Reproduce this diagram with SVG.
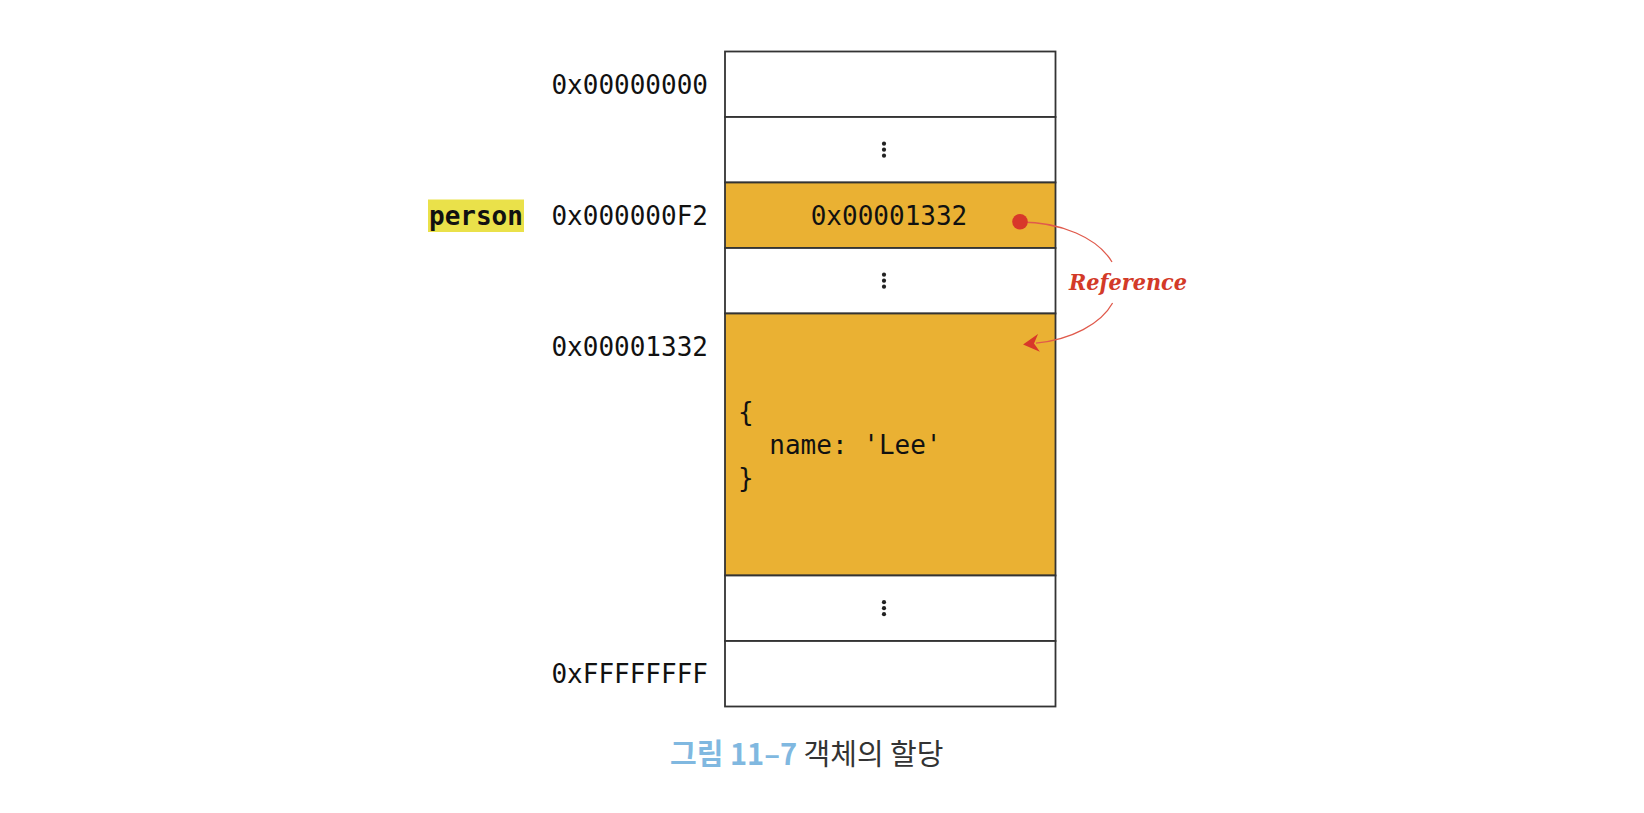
<svg xmlns="http://www.w3.org/2000/svg" width="1644" height="813" viewBox="0 0 1644 813">
<style>
.cell{stroke:#333;stroke-width:1.8}
.w{fill:#fff}
.o{fill:#EAB133}
.mono{font-family:"DejaVu Sans Mono","Liberation Mono",monospace;font-size:26px;fill:#111}
.dot{fill:#222}
.ref{font-family:"DejaVu Serif","Liberation Serif",serif;font-weight:bold;font-style:italic;font-size:23px;fill:#D33A28}
.conn{fill:none;stroke:#E05A4C;stroke-width:1.3}
.cap{font-family:"Noto Sans CJK KR","Noto Sans",sans-serif;font-size:29px}
</style>
<defs>
<marker id="ah" viewBox="0 0 16 18" refX="3" refY="9" markerWidth="16" markerHeight="18" markerUnits="userSpaceOnUse" orient="auto">
<path d="M16,9 L0,0 L5,9 L0,18 Z" fill="#D8382A"/>
</marker>
</defs>
<rect width="1644" height="813" fill="#fff"/>
<g id="row-0x00000000">
<rect class="cell w" x="725" y="51.5" width="330.5" height="65.5"/>
<text class="mono" x="708" y="93.7" text-anchor="end">0x00000000</text>
</g>
<g id="row-gap1">
<rect class="cell w" x="725" y="117" width="330.5" height="65.5"/>
<circle class="dot" cx="884" cy="143.7" r="2.1"/><circle class="dot" cx="884" cy="149.7" r="2.1"/><circle class="dot" cx="884" cy="155.7" r="2.1"/>
</g>
<g id="row-person">
<rect class="cell o" x="725" y="182.5" width="330.5" height="65.5"/>
<text class="mono" x="708" y="224.7" text-anchor="end">0x000000F2</text>
<text class="mono" x="889" y="224.7" text-anchor="middle">0x00001332</text>
<rect x="428" y="199.5" width="96" height="32.5" fill="#EAE14A"/>
<text class="mono" x="429" y="224.7" font-weight="bold">person</text>
</g>
<g id="row-gap2">
<rect class="cell w" x="725" y="248" width="330.5" height="65.5"/>
<circle class="dot" cx="884" cy="274.7" r="2.1"/><circle class="dot" cx="884" cy="280.7" r="2.1"/><circle class="dot" cx="884" cy="286.7" r="2.1"/>
</g>
<g id="row-object">
<rect class="cell o" x="725" y="313.5" width="330.5" height="262"/>
<text class="mono" x="708" y="355.7" text-anchor="end">0x00001332</text>
<text class="mono" x="738" y="420.5">{</text>
<text class="mono" x="738" y="453.5" xml:space="preserve">  name: 'Lee'</text>
<text class="mono" x="738" y="486.5">}</text>
</g>
<g id="row-gap3">
<rect class="cell w" x="725" y="575.5" width="330.5" height="65.5"/>
<circle class="dot" cx="884" cy="602.2" r="2.1"/><circle class="dot" cx="884" cy="608.2" r="2.1"/><circle class="dot" cx="884" cy="614.2" r="2.1"/>
</g>
<g id="row-0xFFFFFFFF">
<rect class="cell w" x="725" y="641" width="330.5" height="65.5"/>
<text class="mono" x="708" y="683.2" text-anchor="end">0xFFFFFFFF</text>
</g>
<g id="connectors">
<path class="conn" d="M1020,222 A98,61 0 0,1 1112,262"/>
<path class="conn" d="M1112.6,303 A98,61 0 0,1 1036,343.2" marker-end="url(#ah)"/>
<circle cx="1020" cy="221.7" r="7.8" fill="#D8382A"/>
<text class="ref" x="1128" y="290" text-anchor="middle" textLength="118" lengthAdjust="spacingAndGlyphs">Reference</text>
</g>
<g id="caption">
<text class="cap" x="670" y="765"><tspan font-weight="bold" fill="#80B8E0">그림 11–7</tspan><tspan fill="#333"> 객체의 할당</tspan></text>
</g>
</svg>
